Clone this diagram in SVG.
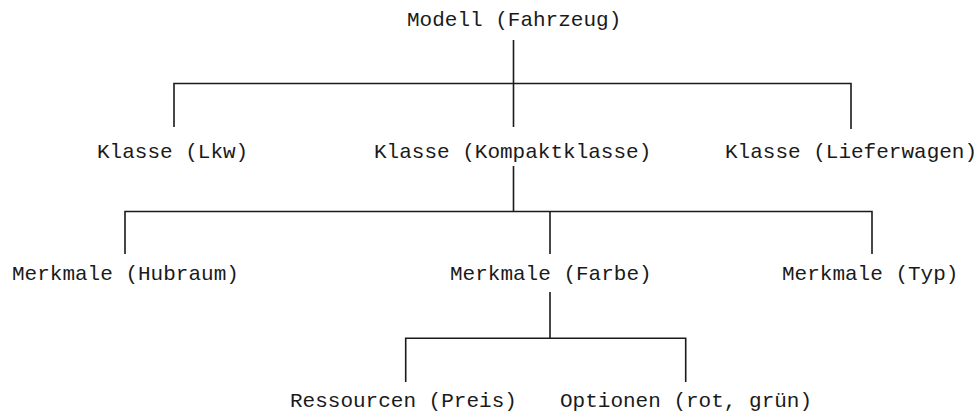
<svg xmlns="http://www.w3.org/2000/svg" width="976" height="413" viewBox="0 0 976 413">
<style>
.lbl{font-family:"Liberation Mono","Courier New",monospace;fill:#1a1a1a;font-size:21px}
.ln{stroke:#1a1a1a;stroke-width:1.6;fill:none}
</style>
<rect width="976" height="413" fill="#fff"/>
<g id="connectors">
<path class="ln" d="M513.5 40V127M174 127V83.5H851V129"/>
<path class="ln" d="M513.5 166V211.5M125 254V211.5H872V254M550 211.5V254"/>
<path class="ln" d="M550 292V338.3M405.7 382V338.3H685.7V382"/>
</g>
<g id="n-modell"><text class="lbl" x="407" y="26">Modell (Fahrzeug)</text></g>
<g id="n-lkw"><text class="lbl" x="97" y="158">Klasse (Lkw)</text></g>
<g id="n-kompakt"><text class="lbl" x="374" y="158">Klasse (Kompaktklasse)</text></g>
<g id="n-liefer"><text class="lbl" x="725" y="158">Klasse (Lieferwagen)</text></g>
<g id="n-hubraum"><text class="lbl" x="12" y="280">Merkmale (Hubraum)</text></g>
<g id="n-farbe"><text class="lbl" x="450" y="280">Merkmale (Farbe)</text></g>
<g id="n-typ"><text class="lbl" x="782" y="280">Merkmale (Typ)</text></g>
<g id="n-preis"><text class="lbl" x="290" y="407">Ressourcen (Preis)</text></g>
<g id="n-optionen"><text class="lbl" x="560" y="407">Optionen (rot, grün)</text></g>
</svg>
